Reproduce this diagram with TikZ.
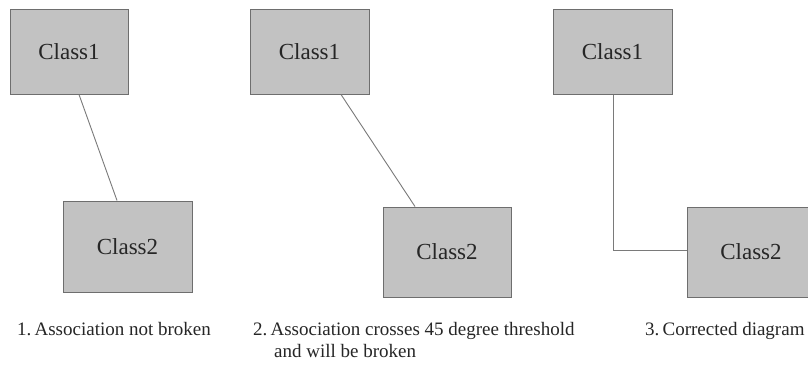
\documentclass[tikz,border=0pt]{standalone}
\usepackage{fontspec}
\setmainfont{Liberation Serif}
\usetikzlibrary{calc}
\definecolor{boxfill}{HTML}{C2C2C2}
\definecolor{boxline}{HTML}{6E6E6E}
\definecolor{linkcol}{HTML}{7A7A7A}
\definecolor{txt}{HTML}{262626}
\begin{document}
\begin{tikzpicture}[x=1pt,y=-1pt,
  classbox/.style={draw=boxline,fill=boxfill,line width=1pt,inner sep=0pt,
    text=txt,font=\fontsize{23}{26}\selectfont},
  assoc/.style={draw=linkcol,line width=0.9pt},
  caption/.style={anchor=base west,inner sep=0pt,text=txt,font=\fontsize{19}{22}\selectfont}]
\fill[white] (0,0) rectangle (808,365);
\useasboundingbox (0,0) rectangle (808,365);
% panel 1
\node[classbox,minimum width=118pt,minimum height=85pt] (c11) at (69,51.5) {\raisebox{-1.5pt}{Class1}};
\node[classbox,minimum width=129pt,minimum height=91pt] (c12) at (127.5,246.5) {\raisebox{-1.5pt}{Class2}};
\draw[assoc] ([xshift=10pt]c11.south) -- ([xshift=-10.5pt]c12.north);
\node[caption] (cap1) at (17,335) {1.\,Association not broken};
% panel 2
\node[classbox,minimum width=119pt,minimum height=85pt] (c21) at (309.5,51.5) {\raisebox{-1.5pt}{Class1}};
\node[classbox,minimum width=128pt,minimum height=90pt] (c22) at (447,252) {\raisebox{-1.5pt}{Class2}};
\draw[assoc] ([xshift=31.5pt]c21.south) -- ([xshift=-32pt]c22.north);
\node[caption] (cap2a) at (253,335) {2.\,Association crosses 45 degree threshold};
\node[caption] (cap2b) at (274,357) {and will be broken};
% panel 3
\node[classbox,minimum width=119pt,minimum height=85pt] (c31) at (612.5,51.5) {\raisebox{-1.5pt}{Class1}};
\node[classbox,minimum width=128pt,minimum height=90pt] (c32) at (751,252) {\raisebox{-1.5pt}{Class2}};
\draw[assoc] ([xshift=0.5pt]c31.south) |- ([yshift=2pt]c32.west);
\node[caption] (cap3) at (645,335) {3.\,Corrected diagram};
\end{tikzpicture}
\end{document}
